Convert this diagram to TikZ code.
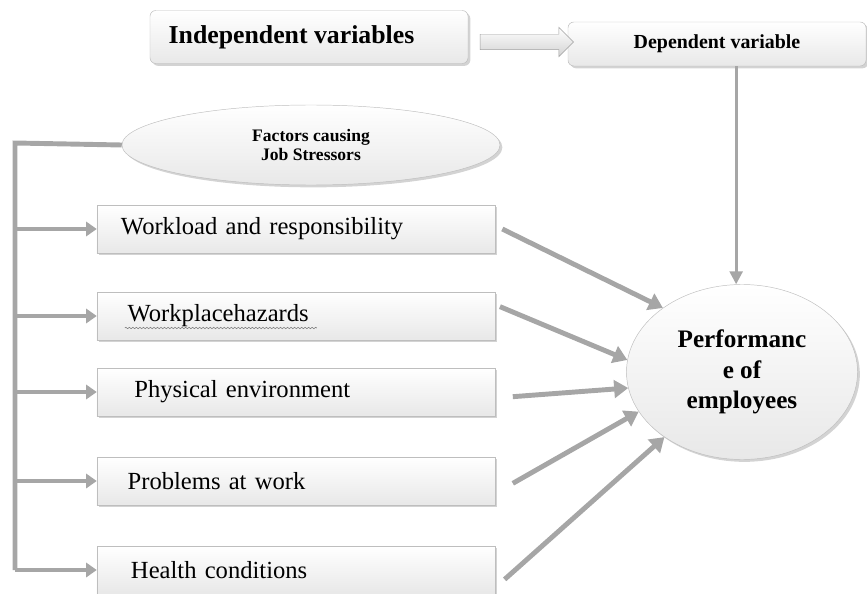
\documentclass[tikz,border=0pt]{standalone}
\usepackage{fontspec}
\setmainfont{Liberation Serif}
\usetikzlibrary{arrows.meta,shapes.geometric,shapes.arrows,shadows,decorations.pathmorphing}

\definecolor{linkgray}{RGB}{166,166,166}
\definecolor{edgegray}{RGB}{190,190,190}

\tikzset{
  softshade/.style={draw=edgegray, top color=white, bottom color=gray!18,
    drop shadow={shadow xshift=2pt, shadow yshift=-2pt, opacity=0.35}},
  factorbox/.style={softshade, rectangle, minimum height=1.44cm,
    text width=10.5cm, inner xsep=0.72cm, align=left,
    font=\fontsize{21}{25}\selectfont},
  headbox/.style={softshade, rectangle, rounded corners=5pt},
  bubble/.style={softshade, ellipse, inner sep=0pt},
  spine/.style={linkgray, line width=4.2pt},
  branch/.style={linkgray, line width=4.2pt,
    -{Triangle[length=9pt, width=12pt]}},
  feed/.style={linkgray, line width=4.2pt,
    -{Triangle[length=12pt, width=15pt]}},
  thinfeed/.style={linkgray, line width=2.4pt,
    -{Triangle[length=11pt, width=11pt]}},
  squiggle/.style={gray, line width=0.5pt, decorate,
    decoration={snake, amplitude=0.6pt, segment length=3pt}},
}

\begin{document}
\begin{tikzpicture}[x=0.03cm, y=-0.03cm]
    \useasboundingbox (0, 0) rectangle (867, 594);

    % top row
    \node[headbox, minimum width=9.54cm, minimum height=1.59cm,
        font=\bfseries\fontsize{22}{26}\selectfont] (indep) at (309, 37)
        {\hspace*{-1.05cm}Independent variables};
    \node[headbox, minimum width=8.94cm, minimum height=1.32cm,
        font=\bfseries\fontsize{17}{20}\selectfont] (dep) at (717, 44)
        {Dependent variable};
    \node[single arrow, draw=gray!75, top color=white, bottom color=gray!35,
        inner sep=0pt, minimum height=2.8cm, text height=0.45cm,
        single arrow head extend=0.21cm, single arrow head indent=0pt]
        (link) at (523, 42) {};

    % stressors
    \node[bubble, minimum width=11.34cm, minimum height=2.4cm,
        align=center, font=\bfseries\fontsize{15}{16}\selectfont]
        (stress) at (311, 145) {Factors causing\\Job Stressors};

    \node[factorbox] (load)   at (296, 229) {Workload and responsibility};
    \node[factorbox] (hazard) at (296, 316) {\hspace*{0.2cm}Workplacehazards};
    \node[factorbox] (phys)   at (296, 392) {\hspace*{0.4cm}Physical environment};
    \node[factorbox] (prob)   at (296, 481) {\hspace*{0.2cm}Problems at work};
    \node[factorbox] (health) at (296, 570) {\hspace*{0.3cm}Health conditions};
        \draw[squiggle] ([xshift=0.84cm, yshift=-0.36cm]hazard.west)
            -- ([xshift=6.6cm, yshift=-0.36cm]hazard.west);

    % outcome
    \node[bubble, minimum width=6.93cm, minimum height=5.25cm,
        align=center, font=\bfseries\fontsize{21.5}{26}\selectfont]
        (perf) at (742, 372) {Performanc\\e of\\employees};

    % bracket on the left
    \coordinate (top) at (15, 143);
    \draw[spine] (stress.west) -- (top) -- (top |- health.west);
        \draw[branch] (top |- load.west) -- (load.west);
        \draw[branch] (top |- hazard.west) -- (hazard.west);
        \draw[branch] (top |- phys.west) -- (phys.west);
        \draw[branch] (top |- prob.west) -- (prob.west);
        \draw[branch] (top |- health.west) -- (health.west);

    % into the outcome
    \draw[feed] ([xshift=6pt]load.east) -- (perf.141);
    \draw[feed] ([xshift=4pt, yshift=8pt]hazard.east) -- (perf.174);
    \draw[feed] ([xshift=15pt, yshift=-4pt]phys.east) -- (perf.188);
    \draw[feed] ([xshift=15pt, yshift=-2pt]prob.east) -- (perf.201);
    \draw[feed] ([xshift=8pt, yshift=-8pt]health.east) -- (perf.220);

    \draw[thinfeed] ([xshift=-5pt]perf.north |- dep.south) -- ([xshift=-5pt]perf.north);
\end{tikzpicture}
\end{document}
